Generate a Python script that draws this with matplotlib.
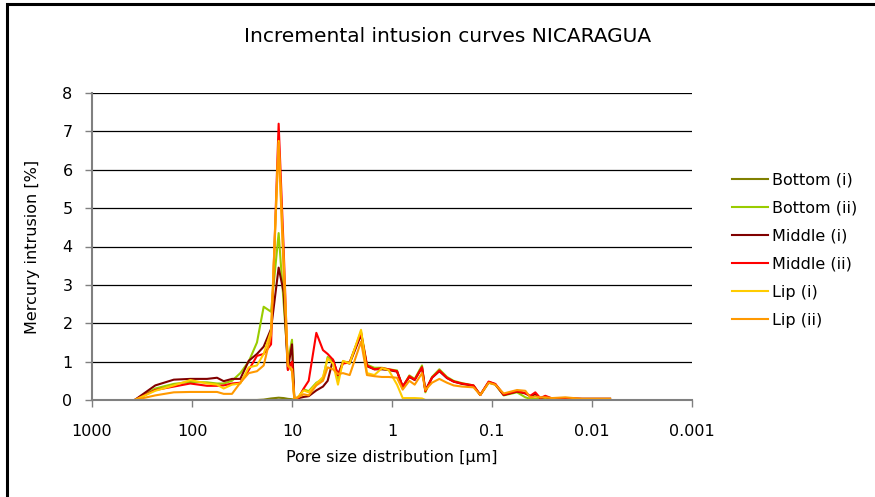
import numpy as np
import matplotlib
matplotlib.use("Agg")
import matplotlib.pyplot as plt
from matplotlib.patches import Rectangle
from matplotlib.ticker import FixedLocator, FixedFormatter, NullLocator

# pore size [um]
pore = [374, 233, 152, 104, 70.8, 56.2, 48.2, 39.8, 32.9, 27.1,
        22.4, 19.2, 16.2, 13.6, 12.1, 11.0, 10.0, 9.48, 8.57, 7.64,
        6.81, 5.71, 4.90, 4.40, 3.89, 3.47, 3.09, 2.65, 2.04, 1.78,
        1.50, 1.26, 1.08, 0.891, 0.782, 0.671, 0.593, 0.501, 0.464, 0.398,
        0.336, 0.282, 0.242, 0.200, 0.153, 0.131, 0.108, 0.0927, 0.0764, 0.0562,
        0.0464, 0.0414, 0.0369, 0.0329, 0.0293, 0.0251, 0.0185, 0.0126, 0.0089, 0.0066]

bottom_i = [0, 0, 0, 0, 0, 0, 0, 0, 0, 0,
            0, 0.01, 0.04, 0.06, 0.05, 0.03, 0.02, 0, 0, 0,
            0, 0, 0, 0, 0, 0, 0, 0, 0, 0,
            0, 0, 0, 0, 0, 0, 0, 0, 0, 0,
            0, 0, 0, 0, 0, 0, 0, 0, 0, 0,
            0, 0, 0, 0, 0, 0, 0, 0, 0, 0]

bottom_ii = [0, 0.30, 0.42, 0.47, 0.46, 0.43, 0.43, 0.50, 0.70, 1.00,
             1.50, 2.43, 2.30, 4.35, 2.50, 1.00, 1.57, 0.02, 0.08, 0.28,
             0.23, 0.45, 0.55, 1.12, 1.00, 0.55, 1.00, 0.98, 1.78, 0.92,
             0.84, 0.84, 0.80, 0.77, 0.33, 0.64, 0.55, 0.90, 0.20, 0.60,
             0.80, 0.60, 0.50, 0.44, 0.38, 0.13, 0.45, 0.40, 0.12, 0.20,
             0.07, 0.03, 0.03, 0.02, 0.03, 0.02, 0.02, 0.03, 0.03, 0.03]

middle_i = [0, 0.38, 0.53, 0.55, 0.55, 0.58, 0.49, 0.55, 0.55, 1.02,
            1.20, 1.39, 1.85, 3.45, 2.80, 0.80, 1.45, 0.02, 0.05, 0.08,
            0.10, 0.25, 0.35, 0.50, 1.05, 0.65, 1.00, 0.95, 1.70, 0.88,
            0.80, 0.80, 0.78, 0.74, 0.35, 0.60, 0.52, 0.85, 0.25, 0.58,
            0.75, 0.57, 0.48, 0.42, 0.37, 0.13, 0.47, 0.41, 0.13, 0.22,
            0.17, 0.10, 0.15, 0.05, 0.08, 0.04, 0.04, 0.03, 0.03, 0.03]

middle_ii = [0, 0.26, 0.35, 0.43, 0.37, 0.37, 0.38, 0.43, 0.45, 0.78,
             1.15, 1.20, 1.45, 7.20, 3.90, 0.78, 1.00, 0.02, 0.06, 0.30,
             0.50, 1.75, 1.30, 1.20, 1.05, 0.65, 0.95, 0.98, 1.75, 0.90,
             0.80, 0.83, 0.80, 0.75, 0.35, 0.62, 0.53, 0.85, 0.23, 0.58,
             0.77, 0.58, 0.48, 0.43, 0.38, 0.13, 0.48, 0.42, 0.14, 0.23,
             0.18, 0.11, 0.20, 0.05, 0.11, 0.04, 0.05, 0.03, 0.03, 0.03]

lip_i = [0, 0.24, 0.38, 0.52, 0.43, 0.40, 0.30, 0.40, 0.43, 0.85,
         0.90, 1.20, 1.80, 6.75, 3.60, 0.90, 0.80, 0.02, 0.10, 0.25,
         0.20, 0.42, 0.60, 1.08, 0.95, 0.40, 1.02, 0.95, 1.83, 0.70,
         0.65, 0.83, 0.78, 0.40, 0.05, 0.05, 0.05, 0.04, 0, 0,
         0, 0, 0, 0, 0, 0, 0, 0, 0, 0,
         0, 0, 0, 0, 0, 0, 0, 0, 0, 0]

lip_ii = [0, 0.12, 0.20, 0.21, 0.21, 0.21, 0.16, 0.16, 0.45, 0.70,
          0.75, 0.90, 1.70, 6.70, 3.30, 0.90, 0.75, 0.02, 0.08, 0.15,
          0.12, 0.38, 0.50, 0.85, 0.80, 0.68, 0.70, 0.65, 1.52, 0.65,
          0.62, 0.60, 0.60, 0.58, 0.27, 0.50, 0.40, 0.70, 0.26, 0.45,
          0.55, 0.45, 0.38, 0.35, 0.33, 0.13, 0.45, 0.40, 0.17, 0.26,
          0.24, 0.07, 0.09, 0.07, 0.07, 0.05, 0.07, 0.03, 0.03, 0.03]

labels = ["Bottom (i)", "Bottom (ii)", "Middle (i)", "Middle (ii)", "Lip (i)", "Lip (ii)"]
series = [bottom_i, bottom_ii, middle_i, middle_ii, lip_i, lip_ii]
colors = ["#808000", "#99CC00", "#800000", "#FF0000", "#FFCC00", "#FF9900"]

W, H = 875, 497
fig = plt.figure(figsize=(W / 100, H / 100), dpi=100)
fig.patches.append(Rectangle((7 / W, -0.1), 2, 1 - 4 / H + 0.1, transform=fig.transFigure,
                             fill=False, edgecolor="black", linewidth=2.2))

ax = fig.add_axes([92 / W, (H - 400) / H, 600 / W, 307 / H])

for y, lab, c in zip(series, labels, colors):
    ax.plot(pore, y, color=c, linewidth=1.5, label=lab)

ax.set_xscale("log")
ax.set_xlim(1000, 0.001)
ax.set_ylim(0, 8)
xt = [1000, 100, 10, 1, 0.1, 0.01, 0.001]
ax.xaxis.set_major_locator(FixedLocator(xt))
ax.xaxis.set_major_formatter(FixedFormatter(["1000", "100", "10", "1", "0.1", "0.01", "0.001"]))
ax.xaxis.set_minor_locator(NullLocator())
ax.set_yticks(range(0, 9))

ax.grid(axis="y", color="black", linewidth=0.9)
ax.set_axisbelow(True)
for s in ["top", "right"]:
    ax.spines[s].set_visible(False)
for s in ["left", "bottom"]:
    ax.spines[s].set_color("#808080")
    ax.spines[s].set_linewidth(1.5)
ax.tick_params(axis="both", colors="#808080", labelcolor="black", labelsize=11.5, length=5, width=1)
ax.tick_params(axis="x", pad=12)
ax.tick_params(axis="y", pad=9)

ax.set_xlabel("Pore size distribution [µm]", fontsize=11.5, labelpad=8)
ax.set_ylabel("Mercury intrusion [%]", fontsize=11.5, labelpad=16)
fig.text(448 / W, 1 - 37 / H, "Incremental intusion curves NICARAGUA", ha="center", va="center", fontsize=14.5)

ax.legend(loc="center left", bbox_to_anchor=(718 / W, 1 - 250 / H), bbox_transform=fig.transFigure,
          frameon=False, fontsize=11.5, handlelength=2.2, handletextpad=0.3, labelspacing=0.82)

fig.savefig("out.png", dpi=100)
